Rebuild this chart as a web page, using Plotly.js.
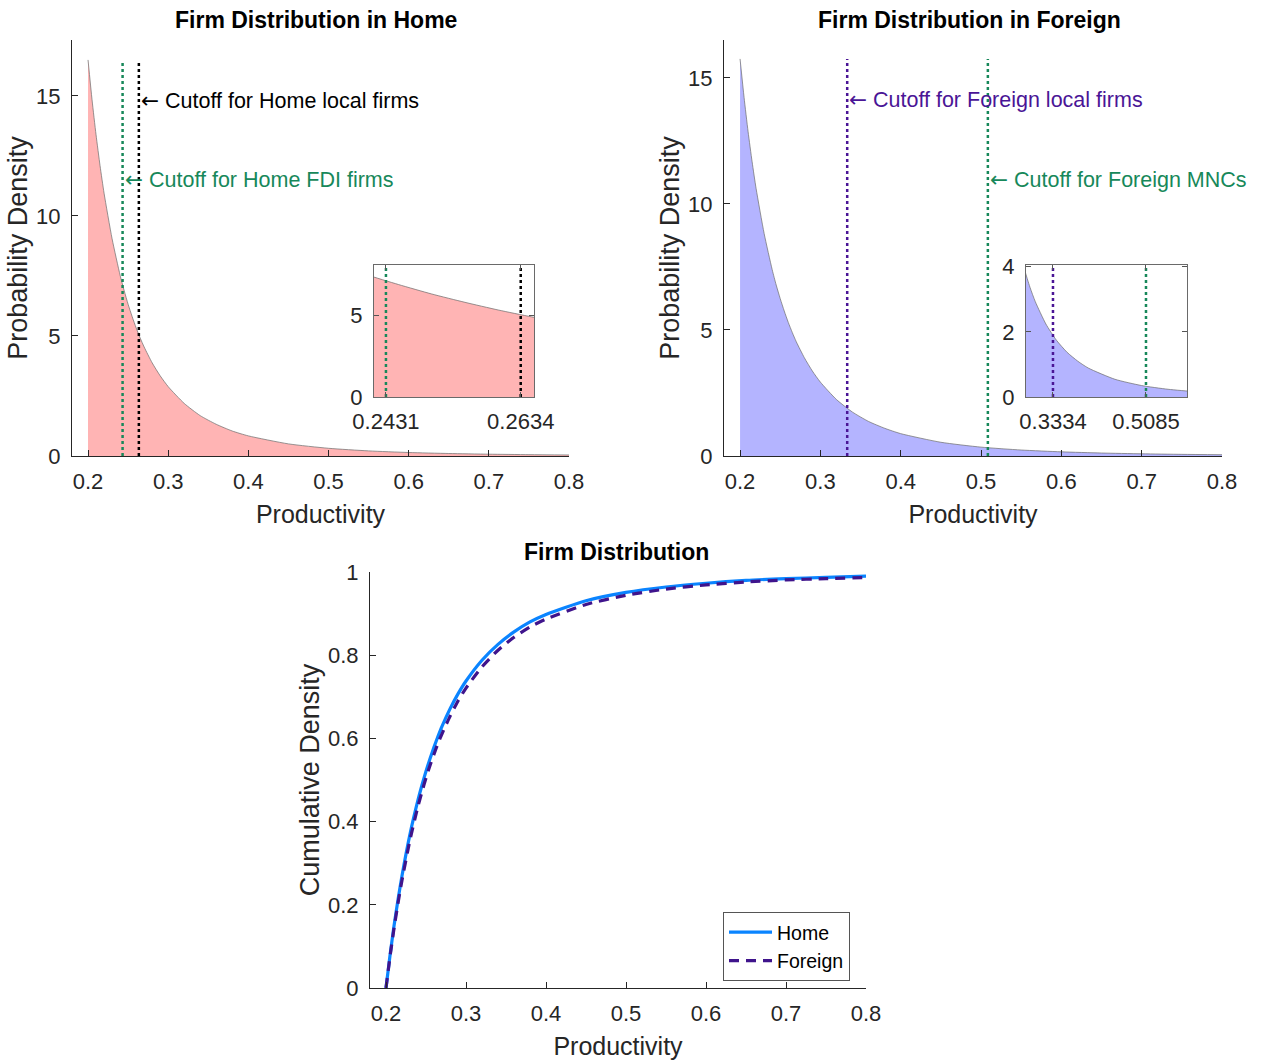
<!DOCTYPE html>
<html>
<head>
<meta charset="utf-8">
<script src="https://cdn.plot.ly/plotly-3.0.1.min.js"></script>
<style>html,body{margin:0;padding:0;background:#fff;}#chart{width:1262px;height:1063px;}</style>
</head>
<body>
<div id="chart"></div>
<script>
// ---- data ----
const productivity = [0.2, 0.205, 0.21, 0.215, 0.22, 0.23, 0.24, 0.245, 0.25, 0.255, 0.26, 0.265, 0.27, 0.28, 0.29, 0.3, 0.32, 0.34, 0.36, 0.38, 0.4, 0.45, 0.5, 0.55, 0.6, 0.65, 0.7, 0.75, 0.8];
const homePdf = [16.5, 14.84, 13.38, 12.09, 10.95, 9.05, 7.53, 6.90, 6.32, 5.81, 5.34, 4.92, 4.54, 3.88, 3.34, 2.89, 2.19, 1.68, 1.32, 1.04, 0.838, 0.505, 0.321, 0.213, 0.146, 0.104, 0.0755, 0.0561, 0.0425];
const foreignPdf = [15.75, 14.22, 12.86, 11.67, 10.60, 8.82, 7.39, 6.78, 6.24, 5.75, 5.30, 4.90, 4.53, 3.90, 3.37, 2.93, 2.24, 1.74, 1.37, 1.10, 0.887, 0.544, 0.352, 0.237, 0.165, 0.118, 0.0870, 0.0653, 0.0500];
const homeCdf = [0, 0.078, 0.149, 0.212, 0.270, 0.370, 0.452, 0.488, 0.521, 0.551, 0.579, 0.605, 0.629, 0.671, 0.707, 0.738, 0.788, 0.826, 0.856, 0.880, 0.898, 0.931, 0.951, 0.964, 0.973, 0.980, 0.984, 0.987, 0.990];
const foreignCdf = [0, 0.075, 0.143, 0.204, 0.259, 0.356, 0.437, 0.472, 0.505, 0.535, 0.562, 0.588, 0.611, 0.653, 0.690, 0.721, 0.772, 0.812, 0.843, 0.868, 0.887, 0.922, 0.944, 0.959, 0.969, 0.976, 0.981, 0.984, 0.987];

const homeCutoffs = [0.2431, 0.2634];      // FDI firms, local firms
const foreignCutoffs = [0.3334, 0.5085];   // local firms, MNCs
const homeCutoffLabels = ['Cutoff for Home FDI firms', 'Cutoff for Home local firms'];
const foreignCutoffLabels = ['Cutoff for Foreign local firms', 'Cutoff for Foreign MNCs'];
const mainTicks = [0.2, 0.3, 0.4, 0.5, 0.6, 0.7, 0.8];
const pdfTicks = [0, 5, 10, 15];
const cdfTicks = [0, 0.2, 0.4, 0.6, 0.8, 1];
const homeInsetYTicks = [0, 5];
const foreignInsetYTicks = [0, 2, 4];
const seriesNames = ['Home', 'Foreign'];

// ---- styles ----
const FONT = 'Liberation Sans, Arial, Helvetica, sans-serif';
const GREEN = '#17885a';
const PURPLE = '#4a1596';
const BLACK = '#000000';
const BLUE = '#0a84ff';
const DKPURPLE = '#3f148c';
const AX = '#262626';
const ARROW = '<span style="font-family:DejaVu Sans">\u2190</span> ';

const homePeak = Math.max(...homePdf);
const foreignPeak = Math.max(...foreignPdf);

const traces = [];
function areaTrace(x, y, fill, xa, ya) {
  return {x: x, y: y, xaxis: xa, yaxis: ya, type: 'scatter', mode: 'lines',
    line: {color: 'rgba(110,110,110,0.9)', width: 0.8, shape: 'spline', smoothing: 0.6},
    fill: 'tozeroy', fillcolor: fill, showlegend: false, hoverinfo: 'skip'};
}
function cutLine(c, peak, color, xa, ya) {
  return {x: [c, c], y: [0, peak], xaxis: xa, yaxis: ya, type: 'scatter', mode: 'lines',
    line: {color: color, width: 2.5, dash: 'dot'}, showlegend: false, hoverinfo: 'skip'};
}
// Home main + inset
traces.push(areaTrace(productivity, homePdf, 'rgba(255,180,180,1)', 'x', 'y'));
traces.push(cutLine(homeCutoffs[0], homePeak, GREEN, 'x', 'y'));
traces.push(cutLine(homeCutoffs[1], homePeak, BLACK, 'x', 'y'));
traces.push(areaTrace(productivity, homePdf, 'rgba(255,180,180,1)', 'x4', 'y4'));
traces.push(cutLine(homeCutoffs[0], homePeak, GREEN, 'x4', 'y4'));
traces.push(cutLine(homeCutoffs[1], homePeak, BLACK, 'x4', 'y4'));
// Foreign main + inset
traces.push(areaTrace(productivity, foreignPdf, 'rgba(180,180,255,1)', 'x2', 'y2'));
traces.push(cutLine(foreignCutoffs[0], foreignPeak, PURPLE, 'x2', 'y2'));
traces.push(cutLine(foreignCutoffs[1], foreignPeak, GREEN, 'x2', 'y2'));
traces.push(areaTrace(productivity, foreignPdf, 'rgba(180,180,255,1)', 'x5', 'y5'));
traces.push(cutLine(foreignCutoffs[0], foreignPeak, PURPLE, 'x5', 'y5'));
traces.push(cutLine(foreignCutoffs[1], foreignPeak, GREEN, 'x5', 'y5'));
// CDFs
traces.push({x: productivity, y: homeCdf, xaxis: 'x3', yaxis: 'y3', type: 'scatter', mode: 'lines',
  name: seriesNames[0], line: {color: BLUE, width: 3.2, shape: 'spline', smoothing: 0.6}});
traces.push({x: productivity, y: foreignCdf, xaxis: 'x3', yaxis: 'y3', type: 'scatter', mode: 'lines',
  name: seriesNames[1], line: {color: DKPURPLE, width: 3.2, dash: '10px,7px', shape: 'spline', smoothing: 0.6}});

const W = 1262, H = 1063;
const dx = (a, b) => [a / W, b / W];
const dy = (top, bottom) => [1 - bottom / H, 1 - top / H];

function mainX(domain, anchor, title, ticks) {
  return {domain: domain, anchor: anchor, range: [0.18, 0.8], tickvals: ticks, ticktext: ticks.map(String),
    ticks: 'inside', ticklen: 6, tickcolor: AX, showline: true, linecolor: AX, linewidth: 1,
    showgrid: false, zeroline: false, ticklabelstandoff: 6,
    tickfont: {family: FONT, size: 22, color: AX},
    title: {text: title, font: {family: FONT, size: 25, color: AX}, standoff: 12}};
}
function mainY(domain, anchor, range, title, ticks) {
  return {domain: domain, anchor: anchor, range: range, tickvals: ticks, ticktext: ticks.map(String),
    ticks: 'inside', ticklen: 6, tickcolor: AX, showline: true, linecolor: AX, linewidth: 1,
    showgrid: false, zeroline: false, ticklabelstandoff: 6,
    tickfont: {family: FONT, size: 22, color: AX},
    title: {text: title, font: {family: FONT, size: 27, color: AX}, standoff: 0}};
}
function insetX(domain, anchor, range, ticks) {
  return {domain: domain, anchor: anchor, range: range, tickvals: ticks, ticktext: ticks.map(String),
    ticks: 'inside', ticklen: 5, tickcolor: '#555', showline: true, mirror: 'ticks', linecolor: '#6a6a6a', linewidth: 1,
    showgrid: false, zeroline: false, ticklabelstandoff: 5,
    tickfont: {family: FONT, size: 22, color: AX}};
}
function insetY(domain, anchor, range, ticks) {
  return {domain: domain, anchor: anchor, range: range, tickvals: ticks, ticktext: ticks.map(String),
    ticks: 'inside', ticklen: 5, tickcolor: '#555', showline: true, mirror: 'ticks', linecolor: '#6a6a6a', linewidth: 1,
    showgrid: false, zeroline: false, ticklabelstandoff: 6,
    tickfont: {family: FONT, size: 22, color: AX}};
}

const layout = {
  width: W, height: H, margin: {l: 0, r: 0, t: 0, b: 0},
  paper_bgcolor: '#fff', plot_bgcolor: 'rgba(0,0,0,0)',
  font: {family: FONT, color: AX},
  xaxis: mainX(dx(72, 569), 'y', 'Productivity', mainTicks),
  yaxis: mainY(dy(40, 456), 'x', [0, 17.33], 'Probability Density', pdfTicks),
  xaxis2: mainX(dx(724, 1222), 'y2', 'Productivity', mainTicks),
  yaxis2: mainY(dy(40, 456), 'x2', [0, 16.5], 'Probability Density', pdfTicks),
  xaxis3: mainX(dx(370, 866), 'y3', 'Productivity', mainTicks),
  yaxis3: mainY(dy(572, 988), 'x3', [0, 1], 'Cumulative Density', cdfTicks),
  xaxis4: insetX(dx(374, 534), 'y4', [0.2413, 0.2654], homeCutoffs),
  yaxis4: insetY(dy(265, 397), 'x4', [0, 8.1], homeInsetYTicks),
  xaxis5: insetX(dx(1026, 1187), 'y5', [0.2826, 0.5857], foreignCutoffs),
  yaxis5: insetY(dy(265, 397), 'x5', [0, 4.05], foreignInsetYTicks),
  showlegend: true,
  legend: {x: 723 / W, y: 1 - 912 / H, xanchor: 'left', yanchor: 'top',
    bgcolor: '#fff', bordercolor: '#555', borderwidth: 1, itemwidth: 43,
    font: {family: FONT, size: 19.5, color: '#000'}, tracegroupgap: 0},
  annotations: [
    {text: '<b>Firm Distribution in Home</b>', xref: 'paper', yref: 'paper', x: 316 / W, y: 1 - 20 / H,
      xanchor: 'center', yanchor: 'middle', showarrow: false, font: {family: FONT, size: 23, color: '#000'}},
    {text: '<b>Firm Distribution in Foreign</b>', xref: 'paper', yref: 'paper', x: 969 / W, y: 1 - 20 / H,
      xanchor: 'center', yanchor: 'middle', showarrow: false, font: {family: FONT, size: 23, color: '#000'}},
    {text: '<b>Firm Distribution</b>', xref: 'paper', yref: 'paper', x: 616 / W, y: 1 - 552 / H,
      xanchor: 'center', yanchor: 'middle', showarrow: false, font: {family: FONT, size: 23, color: '#000'}},
    {text: ARROW + homeCutoffLabels[1], xref: 'x', yref: 'y', x: homeCutoffs[1], y: 14.83,
      xanchor: 'left', yanchor: 'middle', showarrow: false, font: {family: FONT, size: 21.5, color: BLACK}},
    {text: ARROW + homeCutoffLabels[0], xref: 'x', yref: 'y', x: homeCutoffs[0], y: 11.5,
      xanchor: 'left', yanchor: 'middle', showarrow: false, font: {family: FONT, size: 21.5, color: GREEN}},
    {text: ARROW + foreignCutoffLabels[0], xref: 'x2', yref: 'y2', x: foreignCutoffs[0], y: 14.13,
      xanchor: 'left', yanchor: 'middle', showarrow: false, font: {family: FONT, size: 21.5, color: PURPLE}},
    {text: ARROW + foreignCutoffLabels[1], xref: 'x2', yref: 'y2', x: foreignCutoffs[1], y: 10.95,
      xanchor: 'left', yanchor: 'middle', showarrow: false, font: {family: FONT, size: 21.5, color: GREEN}}
  ]
};

Plotly.newPlot('chart', traces, layout, {displayModeBar: false, staticPlot: true});
</script>
</body>
</html>
